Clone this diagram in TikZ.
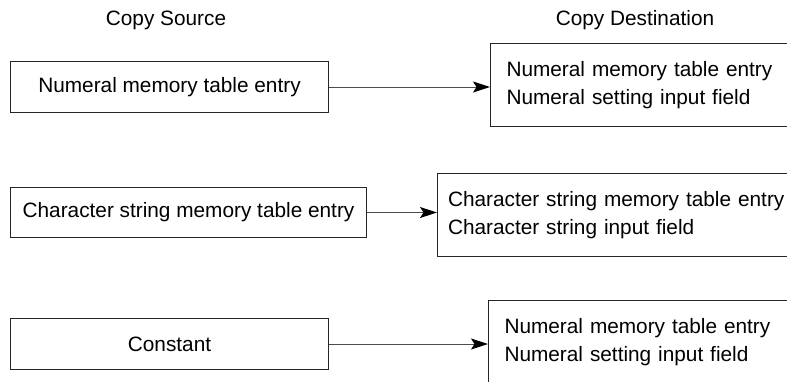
\documentclass[tikz,border=0pt]{standalone}
\usepackage{fontspec}
\setmainfont{Liberation Sans}
\usetikzlibrary{arrows.meta}
\begin{document}
\begin{tikzpicture}[x=1pt,y=-1pt,
  every node/.style={font=\fontsize{20.8}{28.5}\selectfont, text=black},
  srcbox/.style={draw=black!85, line width=1pt, minimum height=51pt, inner sep=0pt, anchor=north west},
  dstbox/.style={draw=black!85, line width=1pt, align=left, anchor=north west, inner ysep=0pt, minimum height=83pt, text width=#1},
  copyarrow/.style={draw=black!70, line width=1pt, -{Stealth[length=17pt,width=11pt,inset=3.5pt,color=black]}},
  head/.style={anchor=base}]
\clip (0,0) rectangle (787,381);
\useasboundingbox (0,0) rectangle (787,381);
\fill[white] (0,0) rectangle (787,381);

\node[head] (hs) at (166,25) {Copy Source};
\node[head] (hd) at (635,25) {Copy Destination};

\node[srcbox, minimum width=318pt] (s1) at (10,61) {Numeral memory table entry};
\node[dstbox=300pt, inner xsep=16pt] (d1) at (490,43) {Numeral memory table entry\\Numeral setting input field};
\draw[copyarrow] (s1.east) -- (s1.east -| d1.west);

\node[srcbox, minimum width=356pt, minimum height=50pt] (s2) at (10,187) {Character string memory table entry};
\node[dstbox=340pt, inner xsep=10.5pt, minimum height=83pt] (d2) at (437,173) {Character string memory table entry\\Character string input field};
\draw[copyarrow] (s2.east) -- (s2.east -| d2.west);

\node[srcbox, minimum width=318pt] (s3) at (10,318) {Constant};
\node[dstbox=300pt, inner xsep=16pt] (d3) at (488,300) {Numeral memory table entry\\Numeral setting input field};
\draw[copyarrow] (s3.east) -- (s3.east -| d3.west);
\end{tikzpicture}
\end{document}
